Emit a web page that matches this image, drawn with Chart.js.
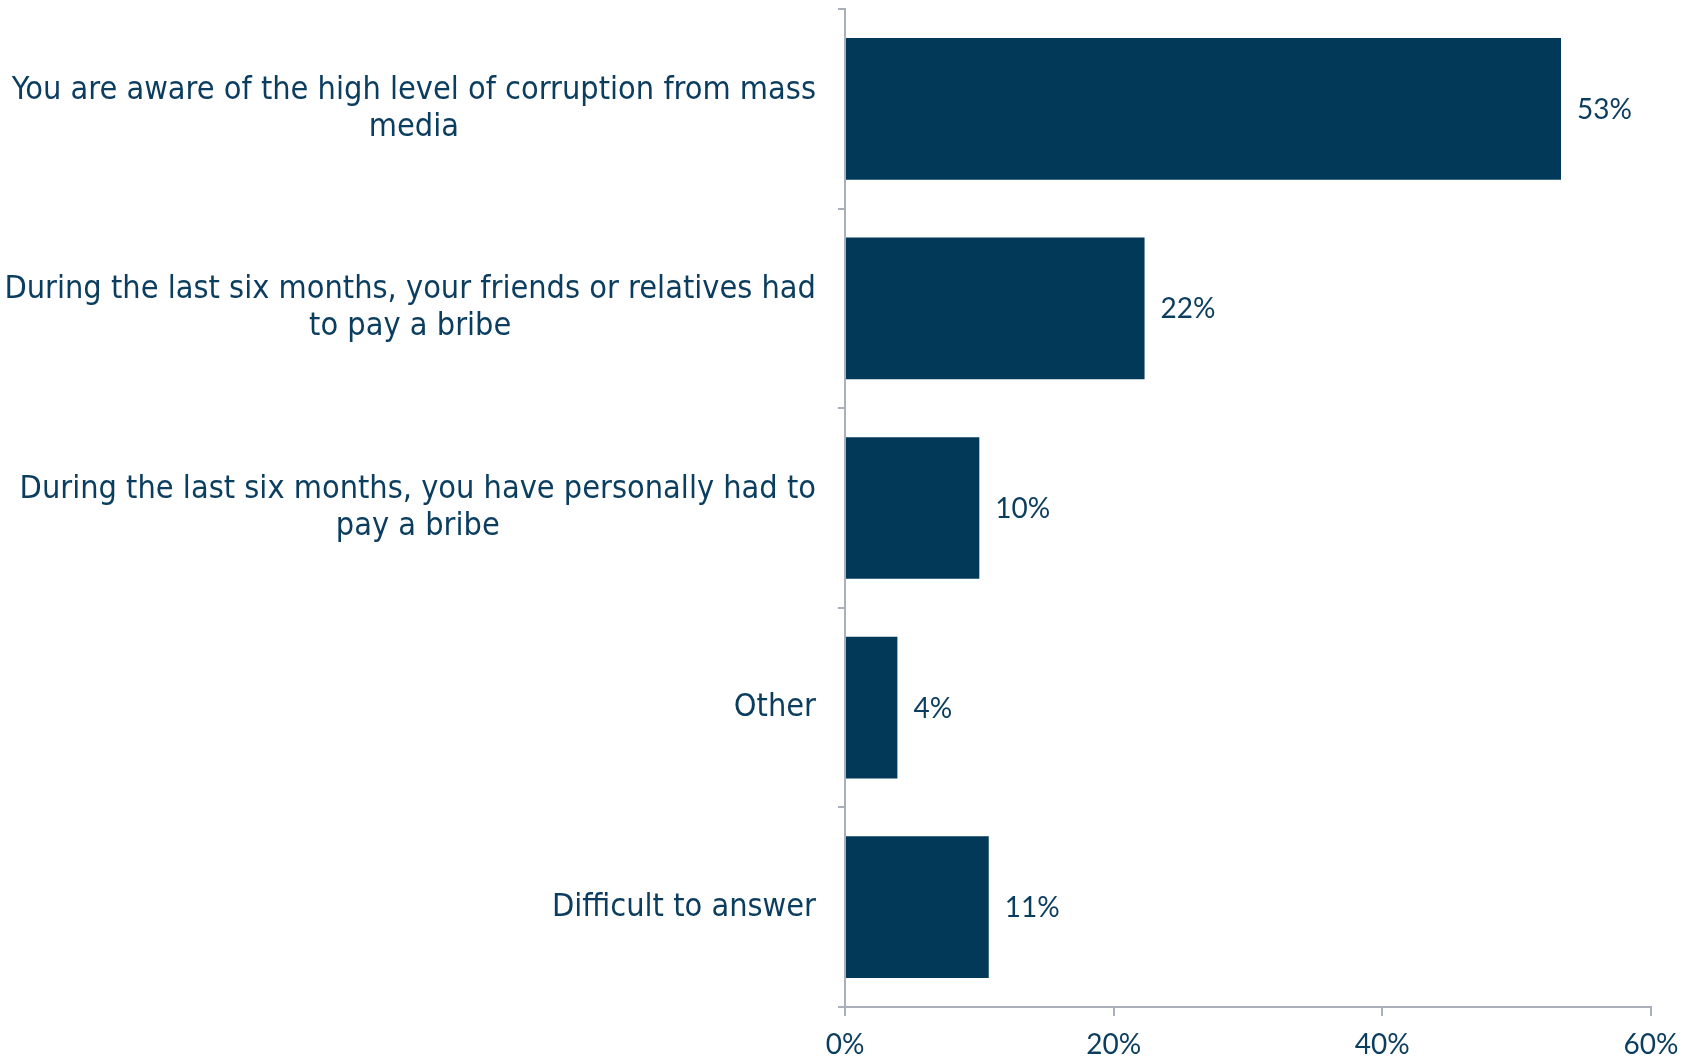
<!DOCTYPE html>
<html>
<head>
<meta charset="utf-8">
<script src="https://cdn.jsdelivr.net/npm/chart.js@4.4.1/dist/chart.umd.min.js"></script>
<style>
  html, body { margin: 0; padding: 0; background: #fff; }
  #wrap { width: 1691px; height: 1061px; }
</style>
</head>
<body>
<div id="wrap"><canvas id="chart"></canvas></div>
<script>
// categories (multi-line labels, same as the original)
const categories = [
    ['You are aware of the high level of corruption from mass', 'media'],
    ['During the last six months, your friends or relatives had', 'to pay a bribe'],
    ['During the last six months, you have personally had to', 'pay a bribe'],
    ['Other'],
    ['Difficult to answer']
];
const values = [53.3, 22.3, 10.0, 3.9, 10.7];
const valueLabels = ['53%', '22%', '10%', '4%', '11%'];
const xTicks = [0, 20, 40, 60];

const textColor = '#0b3d5f';
const barColor = '#033958';
const axisColor = '#a9afbb';
const labelFamily = '"DejaVu Sans Condensed", "DejaVu Sans", sans-serif';
const numFamily = 'Lato, "DejaVu Sans Condensed", sans-serif';

// labels drawn by hand so that each block is centred on itself and right aligned
const labelPlugin = {
    id: 'labels',
    afterDraw(chart) {
        const ctx = chart.ctx;
        const y = chart.scales.y;
        const x = chart.scales.x;
        ctx.save();
        ctx.fillStyle = textColor;
        ctx.textBaseline = 'middle';
        // size the label font so the longest line is about as wide as in the original
        ctx.font = '28px ' + labelFamily;
        const w = ctx.measureText(categories[0][0]).width;
        const size = Math.round(28 * 805 / w * 10) / 10;
        const right = y.right - 29;
        const lh = 37;
        categories.forEach((lines, i) => {
            const cy = y.getPixelForValue(i);
            ctx.font = size + 'px ' + labelFamily;
            const widest = Math.max(...lines.map(l => ctx.measureText(l).width));
            const cx = right - widest / 2;
            ctx.textAlign = 'center';
            lines.forEach((l, k) => {
                ctx.fillText(l, cx, cy + (k - (lines.length - 1) / 2) * lh);
            });
            // value label
            ctx.font = '28px ' + numFamily;
            ctx.textAlign = 'left';
            ctx.fillText(valueLabels[i], x.getPixelForValue(values[i]) + 16, cy + 1);
        });
        ctx.restore();
    }
};

new Chart(document.getElementById('chart'), {
    type: 'bar',
    data: {
        labels: categories.map(c => c.join(' ')),
        datasets: [{
            data: values,
            backgroundColor: barColor,
            barPercentage: 0.71,
            categoryPercentage: 1.0
        }]
    },
    options: {
        indexAxis: 'y',
        responsive: true,
        maintainAspectRatio: false,
        animation: false,
        layout: { padding: { top: 9, right: 40, left: 0, bottom: 0 } },
        plugins: {
            legend: { display: false },
            tooltip: { enabled: false }
        },
        scales: {
            x: {
                min: 0,
                max: 60,
                afterBuildTicks: s => { s.ticks = xTicks.map(v => ({ value: v })); },
                afterFit: s => { s.height = 54; },
                border: { color: axisColor, width: 2 },
                grid: { drawOnChartArea: false, color: axisColor, tickLength: 9, lineWidth: 2 },
                ticks: {
                    color: textColor,
                    padding: 12,
                    font: { family: numFamily, size: 28 },
                    callback: v => v + '%'
                }
            },
            y: {
                afterFit: s => { s.width = 845; },
                border: { color: axisColor, width: 2 },
                grid: { drawOnChartArea: false, color: axisColor, tickLength: 7, lineWidth: 2, offset: true },
                ticks: { display: false }
            }
        }
    },
    plugins: [labelPlugin]
});
</script>
</body>
</html>
